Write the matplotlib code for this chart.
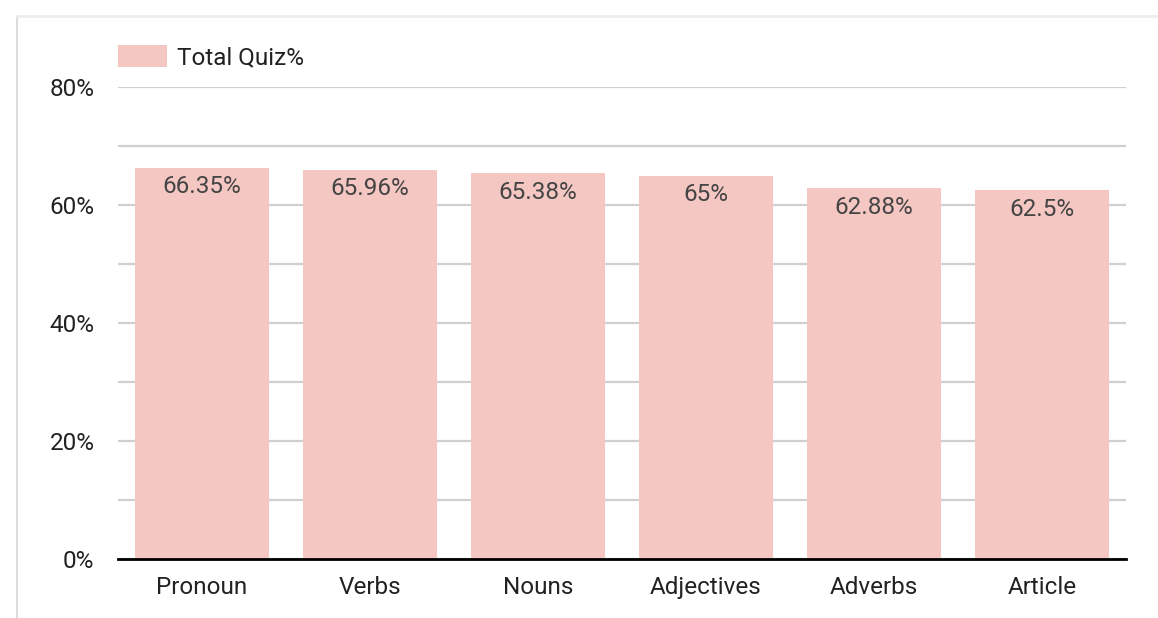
import matplotlib.pyplot as plt
from matplotlib.lines import Line2D

plt.rcParams['font.family'] = ['Roboto', 'DejaVu Sans']

# 数据
categories = ['Pronoun', 'Verbs', 'Nouns', 'Adjectives', 'Adverbs', 'Article']
quiz_pct = [66.35, 65.96, 65.38, 65, 62.88, 62.5]
bar_labels = ['66.35%', '65.96%', '65.38%', '65%', '62.88%', '62.5%']
y_ticks = [0, 20, 40, 60, 80]
y_minor = [10, 30, 50, 70]

W, H = 1158, 618
fs = 17.5
fig = plt.figure(figsize=(W / 100, H / 100), dpi=100)
ax = fig.add_axes([118 / W, 1 - 559 / H, (1126 - 118) / W, (559 - 87) / H])

bars = ax.bar(range(len(categories)), quiz_pct, width=0.8, color='#f4c7c3',
              label='Total Quiz%', zorder=2)

# 柱内标签
for rect, lab in zip(bars, bar_labels):
    ax.annotate(lab, (rect.get_x() + rect.get_width() / 2, rect.get_height()),
                xytext=(0, -5.5), textcoords='offset points', ha='center', va='top',
                fontsize=fs, color='#444444', zorder=3)

ax.set_xlim(-0.5, len(categories) - 0.5)
ax.set_ylim(0, 80)
ax.set_yticks(y_ticks)
ax.set_yticklabels([f'{v}%' for v in y_ticks])
ax.set_yticks(y_minor, minor=True)
ax.set_xticks(range(len(categories)))
ax.set_xticklabels(categories)

ax.grid(axis='y', which='both', color='#d0d0d0', linewidth=1.6, zorder=0)
ax.tick_params(axis='y', which='both', length=0, pad=17, labelsize=fs, labelcolor='#222222')
ax.tick_params(axis='x', length=0, pad=12, labelsize=fs, labelcolor='#222222')

for s in ['top', 'right', 'left']:
    ax.spines[s].set_visible(False)
ax.spines['bottom'].set_color('black')
ax.spines['bottom'].set_linewidth(2)
ax.spines['bottom'].set_zorder(4)

fig.legend(loc='center left', bbox_to_anchor=(118 / W, 1 - 57 / H), frameon=False,
           borderpad=0, borderaxespad=0, handlelength=2.0, handleheight=1.05,
           handletextpad=0.42, fontsize=fs, labelcolor='#222222')

# 卡片边框
fig.add_artist(Line2D([17 / W, 17 / W], [0, 1 - 16 / H], color='#dddddd', linewidth=1.5))
fig.add_artist(Line2D([17 / W, 1], [1 - 16 / H, 1 - 16 / H], color='#eeeeee', linewidth=2))

fig.savefig('out.png', dpi=100)
